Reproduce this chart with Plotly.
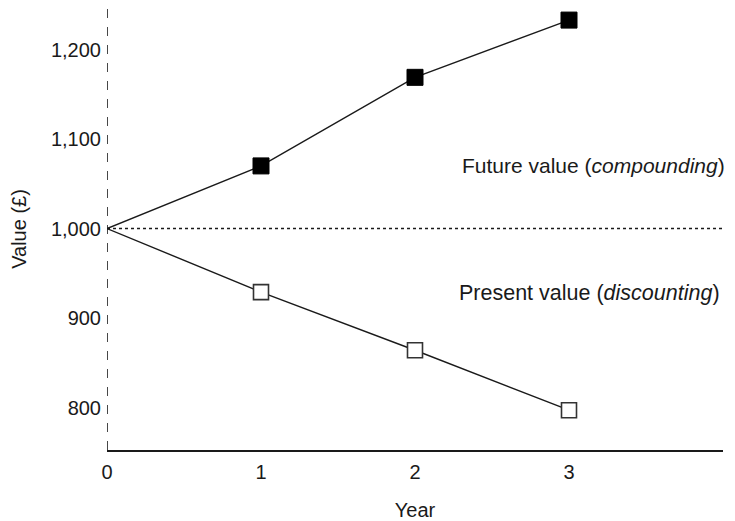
import plotly.graph_objects as go

years = [0, 1, 2, 3]
future_value = [1000, 1070, 1169, 1233]
present_value = [1000, 929, 864, 797]
y_ticks = [800, 900, 1000, 1100, 1200]
x_ticks = [0, 1, 2, 3]

FONT = "Liberation Sans, Arial, Helvetica, sans-serif"
INK = "#1a1a1a"

fig = go.Figure()

# reference line at 1,000
fig.add_trace(go.Scatter(x=[0, 4], y=[1000, 1000], mode="lines",
                         line=dict(color=INK, width=1.5, dash="dot"),
                         hoverinfo="skip", showlegend=False))

fig.add_trace(go.Scatter(x=years, y=future_value, mode="lines",
                         line=dict(color=INK, width=1.4), showlegend=False))
fig.add_trace(go.Scatter(x=years[1:], y=future_value[1:], mode="markers",
                         marker=dict(symbol="square", size=16, color="black",
                                     line=dict(color="black", width=1)),
                         showlegend=False))

fig.add_trace(go.Scatter(x=years, y=present_value, mode="lines",
                         line=dict(color=INK, width=1.4), showlegend=False))
fig.add_trace(go.Scatter(x=years[1:], y=present_value[1:], mode="markers",
                         marker=dict(symbol="square", size=15, color="white",
                                     line=dict(color="#333333", width=1.6)),
                         showlegend=False))

# dashed vertical axis at year 0
fig.add_shape(type="line", xref="x", yref="paper", x0=0, x1=0, y0=0, y1=1,
              line=dict(color=INK, width=1.6, dash="dash"))

fig.add_annotation(x=2.29, y=1071, xref="x", yref="y", xanchor="left",
                   text="Future value (<i>compounding</i>)", showarrow=False,
                   font=dict(family=FONT, size=21, color=INK))
fig.add_annotation(x=2.275, y=928, xref="x", yref="y", xanchor="left",
                   text="Present value (<i>discounting</i>)", showarrow=False,
                   font=dict(family=FONT, size=21.5, color=INK))

fig.update_layout(
    width=727, height=513,
    margin=dict(l=99, r=12, t=0, b=71),
    paper_bgcolor="white", plot_bgcolor="white",
    font=dict(family=FONT, size=20, color=INK),
    xaxis=dict(range=[0, 4], tickvals=x_ticks, showgrid=False, zeroline=False,
               showline=True, linecolor=INK, linewidth=1.6, ticks="",
               ticklabelstandoff=3, automargin=False,
               tickfont=dict(size=20),
               title=dict(text="Year", standoff=21, font=dict(size=20))),
    yaxis=dict(range=[752.5, 1246.5], tickvals=y_ticks, tickformat=",",
               showgrid=False, zeroline=False, showline=False, ticks="",
               ticklabelstandoff=5, automargin=False,
               tickfont=dict(size=20),
               title=dict(text="Value (£)", standoff=21, font=dict(size=20))),
)

fig.write_html("out.html")
